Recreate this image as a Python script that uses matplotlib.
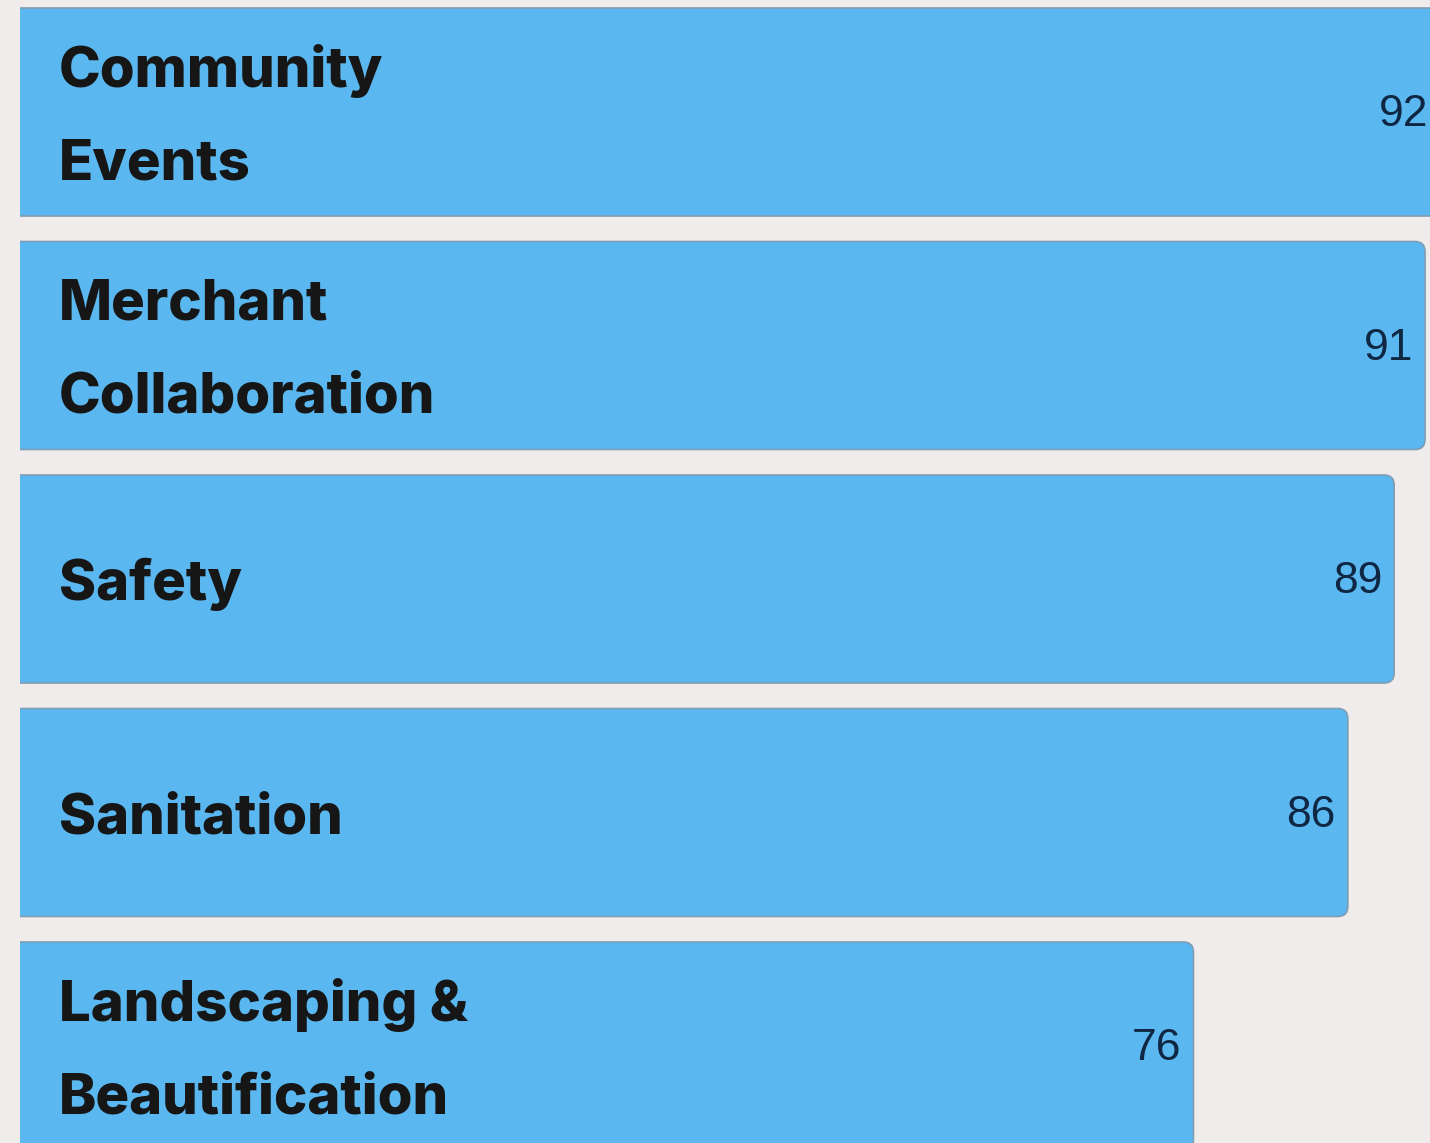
import matplotlib
matplotlib.use("Agg")
import matplotlib.pyplot as plt
from matplotlib.patches import FancyBboxPatch

categories = ["Community\nEvents", "Merchant\nCollaboration", "Safety",
              "Sanitation", "Landscaping &\nBeautification"]
values = [92, 91, 89, 86, 76]

bg = "#f0ecec"
bar_color = "#5ab7ef"
edge_color = "#7f9db3"

W, H = 1430, 1143
fig = plt.figure(figsize=(W / 100, H / 100), dpi=100, facecolor=bg)
ax = fig.add_axes([20 / W, 0, (W - 20) / W, 1])
ax.set_facecolor(bg)

px_x = 15.44   # pixels per value unit
px_y = 233.5   # pixels per category step
ax.set_xlim(0, (W - 20) / px_x)
ax.set_ylim((H - 112) / px_y, -112 / px_y)

bar_h = 208 / px_y
r = 10 / px_x
for i, v in enumerate(values):
    # start a bit left of zero so the rounded left corners are clipped off
    box = FancyBboxPatch((-1.5, i - bar_h / 2), v + 1.5, bar_h,
                         boxstyle=f"round,pad=0,rounding_size={r}",
                         mutation_aspect=(px_x / px_y),
                         facecolor=bar_color, edgecolor=edge_color,
                         linewidth=1.2)
    ax.add_patch(box)

    ax.annotate(categories[i], xy=(0, i), xytext=(39 * 0.72, -4),
                textcoords="offset points", ha="left", va="center",
                fontsize=40.5, fontweight="heavy", family="Inter",
                color="#161616", linespacing=1.98)
    ax.annotate(str(v), xy=(v, i), xytext=(-12 * 0.72, -2),
                textcoords="offset points", ha="right", va="center",
                fontsize=32, family="Liberation Sans", color="#0f2743",
                annotation_clip=False)

ax.axis("off")
fig.savefig("out.png", dpi=100, facecolor=bg)
